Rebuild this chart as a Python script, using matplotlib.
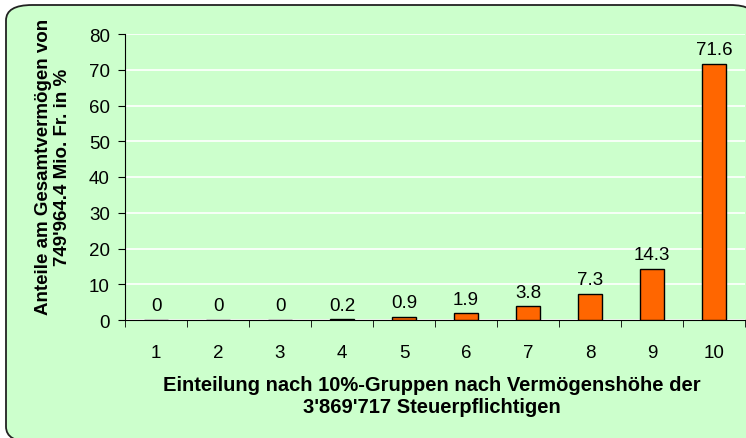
import matplotlib
matplotlib.use("Agg")
import matplotlib.pyplot as plt
from matplotlib.patches import FancyBboxPatch
import numpy as np

plt.rcParams['font.family'] = ['Liberation Sans', 'DejaVu Sans']

GROUPS = ["1", "2", "3", "4", "5", "6", "7", "8", "9", "10"]
SHARES = [0, 0, 0, 0.2, 0.9, 1.9, 3.8, 7.3, 14.3, 71.6]
YTICKS = [0, 10, 20, 30, 40, 50, 60, 70, 80]
BG = "#CCFFCC"
BAR = "#FF6600"


def main():
    fig = plt.figure(figsize=(7.46, 4.39), dpi=100)
    fig.patch.set_facecolor("white")
    border = FancyBboxPatch((6 / 746, -4 / 439), 750 / 746, 437 / 439,
                            boxstyle="round,pad=0,rounding_size=0.035",
                            transform=fig.transFigure, facecolor=BG,
                            edgecolor="#222222", linewidth=1.3, zorder=-10)
    fig.patches.append(border)

    ax = fig.add_axes([125 / 746, 1 - 321 / 439, 620 / 746, 286 / 439])
    ax.set_facecolor(BG)
    x = np.arange(len(GROUPS))
    bars = ax.bar(x, SHARES, width=0.4, color=BAR, edgecolor="black",
                  linewidth=1, zorder=3)
    for b, v in zip(bars, SHARES):
        ax.annotate("{:g}".format(v), (b.get_x() + b.get_width() / 2, v),
                    xytext=(0, 4), textcoords="offset points",
                    ha="center", va="bottom", fontsize=13.5)

    ax.set_xlim(-0.5, len(GROUPS) - 0.5)
    ax.set_ylim(0, 80)
    ax.set_yticks(YTICKS)
    ax.yaxis.grid(True, color="white", linewidth=1.2, zorder=0)
    ax.set_axisbelow(True)
    ax.set_xticks(x)
    ax.set_xticklabels(GROUPS, fontsize=13.5)
    ax.set_xticks(np.arange(len(GROUPS) + 1) - 0.5, minor=True)
    ax.tick_params(axis="x", which="major", length=0, pad=17)
    ax.tick_params(axis="x", which="minor", length=5, direction="out")
    ax.tick_params(axis="y", labelsize=13.5, length=5, pad=6)
    for s in ["top", "right"]:
        ax.spines[s].set_visible(False)

    fig.text(432 / 746, 1 - 397 / 439,
             "Einteilung nach 10%-Gruppen nach Vermögenshöhe der\n"
             "3'869'717 Steuerpflichtigen",
             ha="center", va="center", fontsize=14.5, fontweight="bold",
             linespacing=1.2)
    fig.text(53 / 746, 1 - 167 / 439,
             "Anteile am Gesamtvermögen von\n749'964.4 Mio. Fr. in %",
             ha="center", va="center", rotation=90, fontsize=13.5,
             fontweight="bold", linespacing=1.2)

    plt.savefig("out.png", dpi=100)


if __name__ == "__main__":
    main()
